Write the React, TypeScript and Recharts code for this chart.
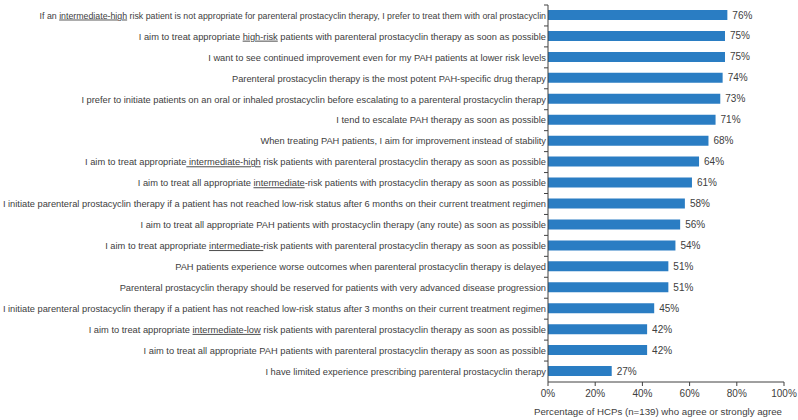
import React from 'react';
import { BarChart, Bar, XAxis, YAxis, LabelList } from 'recharts';

// underlined parts of a statement are wrapped in _..._
const statements = [
  'If an _intermediate-high_ risk patient is not appropriate for parenteral prostacyclin therapy, I prefer to treat them with oral prostacyclin',
  'I aim to treat appropriate _high-risk_ patients with parenteral prostacyclin therapy as soon as possible',
  'I want to see continued improvement even for my PAH patients at lower risk levels',
  'Parenteral prostacyclin therapy is the most potent PAH-specific drug therapy',
  'I prefer to initiate patients on an oral or inhaled prostacyclin before escalating to a parenteral prostacyclin therapy',
  'I tend to escalate PAH therapy as soon as possible',
  'When treating PAH patients, I aim for improvement instead of stability',
  'I aim to treat appropriate_ intermediate-high_ risk patients with parenteral prostacyclin therapy as soon as possible',
  'I aim to treat all appropriate _intermediate_-risk patients with prostacyclin therapy as soon as possible',
  'I initiate parenteral prostacyclin therapy if a patient has not reached low-risk status after 6 months on their current treatment regimen',
  'I aim to treat all appropriate PAH patients with prostacyclin therapy (any route) as soon as possible',
  'I aim to treat appropriate _intermediate-_risk patients with parenteral prostacyclin therapy as soon as possible',
  'PAH patients experience worse outcomes when parenteral prostacyclin therapy is delayed',
  'Parenteral prostacyclin therapy should be reserved for patients with very advanced disease progression',
  'I initiate parenteral prostacyclin therapy if a patient has not reached low-risk status after 3 months on their current treatment regimen',
  'I aim to treat appropriate _intermediate-low_ risk patients with parenteral prostacyclin therapy as soon as possible',
  'I aim to treat all appropriate PAH patients with parenteral prostacyclin therapy as soon as possible',
  'I have limited experience prescribing parenteral prostacyclin therapy',
];

const agreePct = [76, 75, 75, 74, 73, 71, 68, 64, 61, 58, 56, 54, 51, 51, 45, 42, 42, 27];

const xTicks = [0, 20, 40, 60, 80, 100];

const data = statements.map((s, i) => ({ name: s, value: agreePct[i] }));

const W = 798;
const H = 420;
const TOP = 5;
const BOTTOM = 38;
const BAND = (H - TOP - BOTTOM) / statements.length;
const TEXT = '#404040';

const StatementTick = (props: any) => {
  const { x, y, payload, index } = props;
  const parts = String(payload.value).split('_');
  const size = index === 0 ? 8.8 : 9.3;
  return (
    <g>
      <line x1={x - 2} x2={x + 2} y1={y - BAND / 2} y2={y - BAND / 2} stroke="#404040" />
      <text x={x} y={y} dy="0.35em" textAnchor="end" fontSize={size} fill={TEXT}>
        {parts.map((p, i) => (
          <tspan key={i} textDecoration={i % 2 === 1 ? 'underline' : undefined}>{p}</tspan>
        ))}
      </text>
    </g>
  );
};

const AxisTitle = (props: any) => {
  const { viewBox } = props;
  return (
    <text
      x={viewBox.x + viewBox.width / 2 - 8}
      y={viewBox.y + viewBox.height - 5}
      textAnchor="middle"
      fontSize={9.7}
      fill={TEXT}
    >
      Percentage of HCPs (n=139) who agree or strongly agree
    </text>
  );
};

export default function App() {
  return (
    <div style={{ position: 'absolute', left: 0, top: 0, fontFamily: '"Liberation Sans", Arial, sans-serif' }}>
      <BarChart
        width={W}
        height={H}
        data={data}
        layout="vertical"
        margin={{ top: TOP, right: 14, bottom: 0, left: 0 }}
        barCategoryGap={0}
      >
        <XAxis
          type="number"
          domain={[0, 100]}
          ticks={xTicks}
          tickFormatter={(v: number) => `${v}%`}
          height={BOTTOM}
          tickSize={4}
          tickMargin={4}
          stroke="#404040"
          tick={{ fill: TEXT, fontSize: 10 }}
          label={<AxisTitle />}
        />
        <YAxis
          type="category"
          dataKey="name"
          width={548}
          tickSize={0}
          tickMargin={2}
          stroke="#404040"
          interval={0}
          tick={<StatementTick />}
        />
        <Bar dataKey="value" fill="#2a7dc3" barSize={10} isAnimationActive={false}>
          <LabelList
            dataKey="value"
            position="right"
            offset={5}
            formatter={(v: any) => `${v}%`}
            fill={TEXT}
            fontSize={10}
          />
        </Bar>
      </BarChart>
    </div>
  );
}
